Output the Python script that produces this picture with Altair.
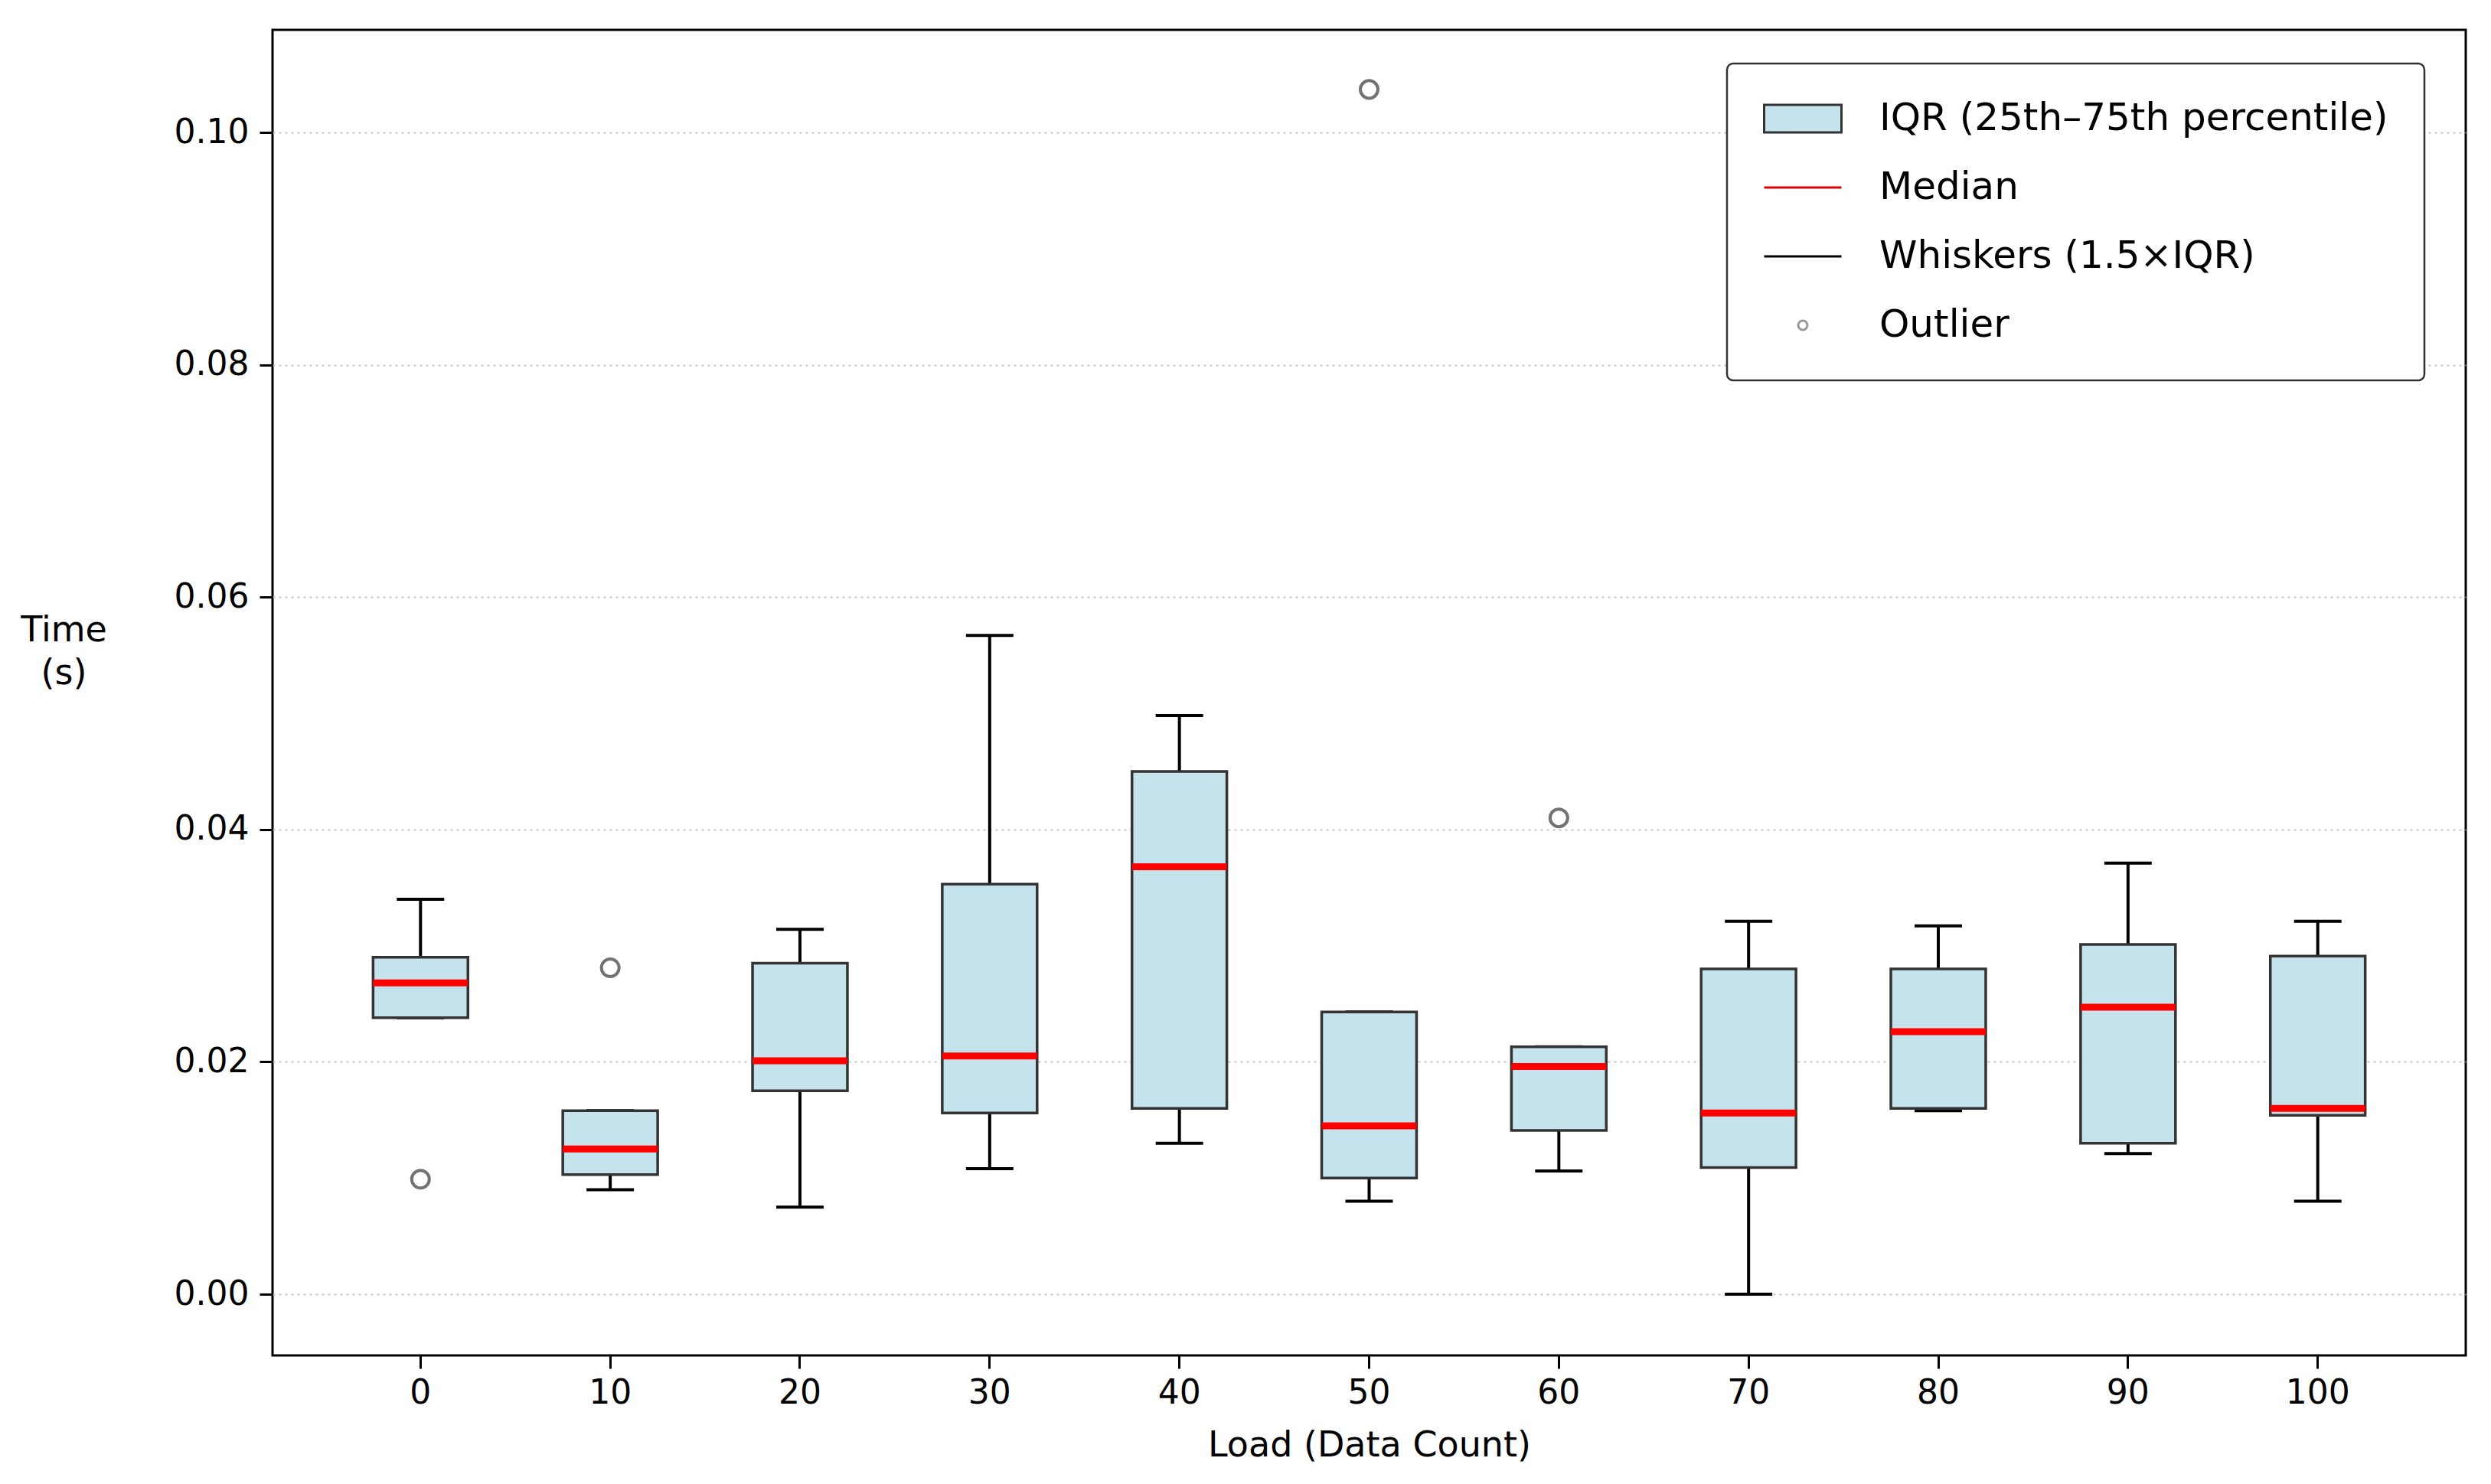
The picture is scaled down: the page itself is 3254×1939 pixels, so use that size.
import altair as alt
import pandas as pd

loads = [0, 10, 20, 30, 40, 50, 60, 70, 80, 90, 100]
whisker_low = [0.0238, 0.0090, 0.0075, 0.0108, 0.0130, 0.0080, 0.0106, 0.0000, 0.0158, 0.0121, 0.0080]
q1 = [0.0238, 0.0103, 0.0175, 0.0156, 0.0160, 0.0100, 0.0141, 0.0109, 0.0160, 0.0130, 0.0154]
median = [0.0268, 0.0125, 0.0201, 0.0205, 0.0368, 0.0145, 0.0196, 0.0156, 0.0226, 0.0247, 0.0160]
q3 = [0.0290, 0.0158, 0.0285, 0.0353, 0.0450, 0.0243, 0.0213, 0.0280, 0.0280, 0.0301, 0.0291]
whisker_high = [0.0340, 0.0158, 0.0314, 0.0567, 0.0498, 0.0243, 0.0213, 0.0321, 0.0317, 0.0371, 0.0321]

outlier_load = [0, 10, 50, 60]
outlier_value = [0.0099, 0.0281, 0.1037, 0.0410]

legend_labels = ["IQR (25th\u201375th percentile)", "Median", "Whiskers (1.5\u00d7IQR)", "Outlier"]

BOX_FILL = "#c5e3ed"
BOX_EDGE = "#333333"

df = pd.DataFrame({"load": loads, "low": whisker_low, "q1": q1, "med": median,
                   "q3": q3, "high": whisker_high})
out_df = pd.DataFrame({"load": outlier_load, "value": outlier_value})
leg_df = pd.DataFrame({"entry": legend_labels})

W, H = 2865, 1732
PAD_OUT = 0.28
step = W / (11 + 2 * PAD_OUT)

xscale = alt.Scale(domain=loads, paddingInner=0, paddingOuter=PAD_OUT)
yscale = alt.Scale(domain=[-0.00527, 0.10883], nice=False, zero=False)

x_enc = alt.X("load:O", scale=xscale, title="Load (Data Count)",
              axis=alt.Axis(labelAngle=0, tickSize=17, tickWidth=3, tickColor="black",
                            labelFontSize=44, labelPadding=10, labelColor="black",
                            titleFontSize=46, titleFontWeight="normal", titleColor="black",
                            titleY=117, titleBaseline="middle", domain=False, grid=False))

y_axis = alt.Axis(values=[0, 0.02, 0.04, 0.06, 0.08, 0.10], format=".2f",
                  tickSize=17, tickWidth=3, tickColor="black",
                  labelFontSize=44, labelPadding=14, labelColor="black",
                  grid=True, gridDash=[3, 5], gridColor="#c4c4c4", gridWidth=2,
                  domain=False, titleAngle=0, titleFontSize=46, titleFontWeight="normal",
                  titleColor="black", titleX=-273, titleY=784, titleAlign="center",
                  titleBaseline="middle", titleLineHeight=56)

base = alt.Chart(df)

whisk_lo = base.mark_rule(color="black", strokeWidth=4, opacity=1).encode(
    x=x_enc, y=alt.Y("low:Q", scale=yscale, axis=y_axis, title=["Time", "(s)"]), y2="q1:Q")
whisk_hi = base.mark_rule(color="black", strokeWidth=4, opacity=1).encode(
    x="load:O", y="q3:Q", y2="high:Q")
cap_lo = base.mark_tick(color="black", size=step * 0.25, thickness=4, opacity=1).encode(
    x="load:O", y="low:Q")
cap_hi = base.mark_tick(color="black", size=step * 0.25, thickness=4, opacity=1).encode(
    x="load:O", y="high:Q")
box = base.mark_bar(fill=BOX_FILL, stroke=BOX_EDGE, strokeWidth=3.5, opacity=1,
                    width=alt.RelativeBandSize(0.5)).encode(
    x="load:O", y="q1:Q", y2="q3:Q")
med = base.mark_tick(color="#ff0000", size=step * 0.5, thickness=9, opacity=1).encode(
    x="load:O", y="med:Q")
outl = alt.Chart(out_df).mark_point(filled=False, size=530, stroke="#727272",
                                    strokeWidth=4, opacity=1).encode(
    x="load:O", y="value:Q")

sz = 40
half = sz / 2
shape_range = [
    f"M{-50.5/half},{-18/half}H{50.5/half}V{18/half}H{-50.5/half}Z",
    f"M{-50.5/half},0H{50.5/half}",
    f"M{-50.5/half},0H{50.5/half}",
    f"M{6/half},0A{6/half},{6/half} 0 1,1 {-6/half},0A{6/half},{6/half} 0 1,1 {6/half},0Z",
]
leg = alt.Legend(title=None, orient="none", legendX=1900, legendY=44,
                 labelFontSize=50, labelColor="black", labelFont="DejaVu Sans",
                 symbolSize=sz * sz, symbolStrokeWidth=3, symbolOffset=27,
                 symbolOpacity=1,
                 labelOffset=75, rowPadding=40, padding=47,
                 strokeColor="#333333", fillColor="white", cornerRadius=8,
                 labelLimit=2000)
legend_layer = alt.Chart(leg_df).mark_point(filled=True, size=sz * sz, opacity=1).encode(
    fill=alt.Fill("entry:N", scale=alt.Scale(domain=legend_labels,
                  range=[BOX_FILL, "transparent", "transparent", "transparent"]), legend=leg),
    stroke=alt.Stroke("entry:N", scale=alt.Scale(domain=legend_labels,
                      range=[BOX_EDGE, "#e00000", "black", "#999999"]), legend=leg),
    shape=alt.Shape("entry:N", scale=alt.Scale(domain=legend_labels, range=shape_range),
                    legend=leg),
).transform_filter("false")

chart = alt.layer(whisk_lo, whisk_hi, cap_lo, cap_hi, box, med, outl, legend_layer).properties(
    width=W, height=H,
    autosize=alt.AutoSizeParams(type="none"),
    padding={"left": 348, "top": 31, "right": 12, "bottom": 150},
).configure(font="DejaVu Sans").configure_view(
    stroke="black", strokeWidth=3
).configure_legend(strokeWidth=2.5)

chart.save("out.html", embed_options={"renderer": "svg", "actions": False})
